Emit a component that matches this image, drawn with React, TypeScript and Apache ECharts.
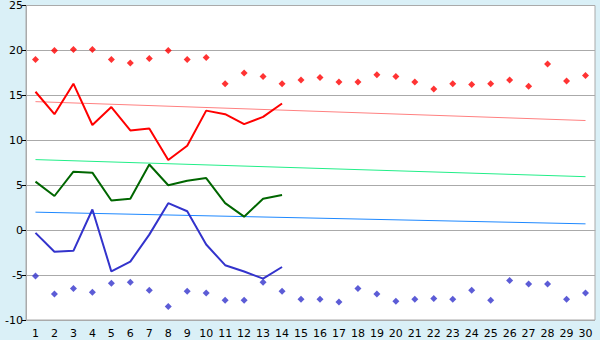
import React, { useEffect, useRef } from "react";
import * as echarts from "echarts";

const days = Array.from({ length: 30 }, (_, i) => String(i + 1));

const highDots = [19.0, 20.0, 20.1, 20.1, 19.0, 18.6, 19.1, 20.0, 19.0, 19.2, 16.3, 17.5, 17.1, 16.3, 16.7, 17.0, 16.5, 16.5, 17.3, 17.1, 16.5, 15.7, 16.3, 16.2, 16.3, 16.7, 16.0, 18.5, 16.6, 17.2];
const lowDots = [-5.1, -7.1, -6.5, -6.9, -5.9, -5.8, -6.7, -8.5, -6.8, -7.0, -7.8, -7.8, -5.8, -6.8, -7.7, -7.7, -8.0, -6.5, -7.1, -7.9, -7.7, -7.6, -7.7, -6.7, -7.8, -5.6, -6.0, -6.0, -7.7, -7.0];
const maxLine = [15.4, 12.9, 16.3, 11.7, 13.7, 11.1, 11.3, 7.8, 9.4, 13.3, 12.9, 11.8, 12.6, 14.1];
const meanLine = [5.4, 3.8, 6.5, 6.4, 3.3, 3.5, 7.3, 5.0, 5.5, 5.8, 3.0, 1.5, 3.5, 3.9];
const minLine = [-0.3, -2.4, -2.3, 2.3, -4.6, -3.5, -0.5, 3.0, 2.1, -1.6, -3.9, -4.6, -5.4, -4.1];
const maxTrend = [14.3, 12.2];
const meanTrend = [7.85, 5.95];
const minTrend = [2.0, 0.7];
const yTicks = { min: -10, max: 25, interval: 5 };

const trendData = (t: number[]) => [[0, t[0]], [days.length - 1, t[1]]];

export default function App() {
  const ref = useRef<HTMLDivElement>(null);
  useEffect(() => {
    if (!ref.current) return;
    const chart = echarts.init(ref.current, null, { renderer: "svg" });
    const font = "DejaVu Sans";
    chart.setOption({
      animation: false,
      backgroundColor: "#daf0f7",
      grid: {
        left: 26,
        right: 5,
        top: 5,
        bottom: 20,
        show: true,
        backgroundColor: "#ffffff",
        borderColor: "#aaaaaa",
        borderWidth: 1,
      },
      xAxis: {
        type: "category",
        data: days,
        boundaryGap: true,
        axisLine: { lineStyle: { color: "#aaaaaa", width: 1 } },
        axisTick: { alignWithLabel: true, length: 5, lineStyle: { color: "#000" } },
        axisLabel: { color: "#000", fontFamily: font, fontSize: 11, margin: 8, interval: 0 },
        splitLine: { show: false },
      },
      yAxis: {
        type: "value",
        min: yTicks.min,
        max: yTicks.max,
        interval: yTicks.interval,
        axisLine: { show: true, lineStyle: { color: "#aaaaaa" } },
        axisTick: { show: true, length: 4, lineStyle: { color: "#000" } },
        axisLabel: { color: "#000", fontFamily: font, fontSize: 11, margin: 3 },
        splitLine: { show: true, lineStyle: { color: "#aaaaaa", width: 1 } },
      },
      series: [
        { type: "line", data: trendData(maxTrend), showSymbol: false, symbol: "none", lineStyle: { color: "#ff8080", width: 1 } },
        { type: "line", data: trendData(meanTrend), showSymbol: false, symbol: "none", lineStyle: { color: "#22ee88", width: 1 } },
        { type: "line", data: trendData(minTrend), showSymbol: false, symbol: "none", lineStyle: { color: "#1e88ff", width: 1 } },
        { type: "line", data: maxLine, symbol: "none", lineStyle: { color: "#ff0000", width: 2 } },
        { type: "line", data: meanLine, symbol: "none", lineStyle: { color: "#006600", width: 2 } },
        { type: "line", data: minLine, symbol: "none", lineStyle: { color: "#3333cc", width: 2 } },
        { type: "scatter", data: highDots, symbol: "diamond", symbolSize: 7, itemStyle: { color: "#ff0000" } },
        { type: "scatter", data: lowDots, symbol: "diamond", symbolSize: 7, itemStyle: { color: "#3333cc" } },
      ],
    });
    return () => chart.dispose();
  }, []);
  return <div ref={ref} style={{ position: "fixed", left: 0, top: 0, width: 600, height: 340 }} />;
}
